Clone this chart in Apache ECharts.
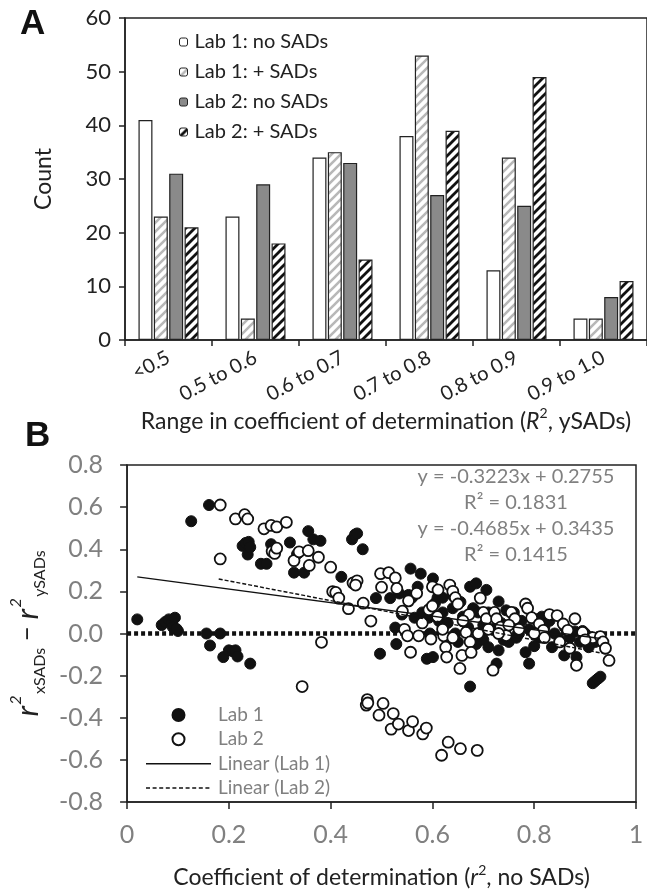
<!DOCTYPE html>
<html><head><meta charset="utf-8">
<script src="https://cdn.jsdelivr.net/npm/echarts@6/dist/echarts.min.js"></script>
<style>html,body{margin:0;padding:0;background:#fff}#c{width:647px;height:894px}</style>
</head><body><div id="c"></div>
<script>
// ---------- Panel A data ----------
const categories = ['<0.5', '0.5 to 0.6', '0.6 to 0.7', '0.7 to 0.8', '0.8 to 0.9', '0.9 to 1.0'];
const lab1NoSADs = [41, 23, 34, 38, 13, 4];
const lab1PlusSADs = [23, 4, 35, 53, 34, 4];
const lab2NoSADs = [31, 29, 33, 27, 25, 8];
const lab2PlusSADs = [21, 18, 15, 39, 49, 11];
const countTicks = [0, 10, 20, 30, 40, 50, 60];

// ---------- Panel B data ----------
const lab1Points = [
  [0.02,0.067],[0.068,0.04],[0.075,0.055],[0.082,0.067],[0.088,0.05],[0.094,0.075],[0.09,0.03],[0.1,0.012],[0.097,0.022],
  [0.126,0.533],[0.161,0.61],
  [0.156,0.0],[0.163,-0.057],[0.183,0.0],[0.189,-0.112],[0.2,-0.08],[0.208,-0.085],[0.213,-0.08],[0.217,-0.109],[0.242,-0.143],
  [0.227,0.416],[0.233,0.43],[0.239,0.435],[0.237,0.375],[0.242,0.41],[0.263,0.331],[0.274,0.331],[0.283,0.424],[0.32,0.432],
  [0.328,0.289],[0.348,0.289],[0.334,0.377],[0.356,0.486],[0.366,0.447],[0.38,0.44],
  [0.421,0.269],[0.442,0.447],[0.448,0.47],[0.452,0.475],[0.463,0.40],
  [0.489,0.168],[0.497,-0.096],[0.517,0.168],[0.529,-0.05],[0.527,0.028],[0.535,0.19],[0.54,0.09],
  [0.557,0.308],[0.553,0.183],[0.577,0.284],[0.571,0.222],[0.565,0.075],[0.56,0.17],[0.58,0.1],
  [0.589,-0.12],[0.601,-0.112],[0.601,0.261],[0.605,0.144],[0.593,0.075],[0.595,0.0],[0.613,0.059],[0.61,0.17],
  [0.62,0.1],[0.62,0.17],[0.63,0.05],[0.63,-0.03],[0.64,0.12],[0.64,0.18],[0.645,0.0],[0.65,-0.04],[0.655,0.15],[0.66,0.08],[0.67,0.03],
  [0.674,-0.252],[0.674,0.222],[0.68,0.12],[0.686,0.238],[0.69,0.1],[0.686,-0.05],[0.7,0.04],[0.7,-0.03],[0.706,0.207],[0.71,0.1],[0.71,-0.065],
  [0.72,0.02],[0.726,-0.143],[0.73,0.152],[0.73,-0.08],[0.735,0.05],[0.74,-0.03],[0.745,0.11],[0.75,-0.04],[0.76,0.05],[0.76,0.1],[0.765,-0.02],[0.77,0.0],[0.775,0.06],
  [0.783,-0.089],[0.79,-0.143],[0.79,0.02],[0.8,-0.06],[0.8,0.07],[0.81,-0.02],[0.815,0.08],[0.82,0.03],[0.83,0.06],[0.835,-0.065],[0.84,0.0],
  [0.85,-0.03],[0.859,-0.104],[0.86,0.03],[0.87,-0.02],[0.88,0.01],[0.883,-0.112],[0.89,-0.04],[0.895,0.012],[0.9,0.0],[0.907,-0.065],[0.92,-0.04],
  [0.915,-0.236],[0.92,-0.225],[0.925,-0.215],[0.93,-0.205]
];
const lab2Points = [
  [0.183,0.61],[0.183,0.354],[0.213,0.544],[0.231,0.564],[0.237,0.544],[0.269,0.497],[0.283,0.513],[0.294,0.506],[0.313,0.528],
  [0.285,0.39],[0.29,0.38],[0.294,0.405],
  [0.328,0.346],[0.338,0.388],[0.356,0.393],[0.358,0.323],[0.376,0.362],[0.4,0.315],[0.404,0.199],[0.41,0.195],[0.416,0.168],
  [0.435,0.118],[0.444,0.24],[0.452,0.25],[0.449,0.23],[0.464,0.144],[0.479,0.059],
  [0.382,-0.042],[0.344,-0.252],
  [0.472,-0.314],[0.47,-0.34],[0.473,-0.33],[0.495,-0.388],[0.503,-0.332],[0.519,-0.454],[0.523,-0.38],[0.533,-0.43],
  [0.553,-0.461],[0.561,-0.418],[0.581,-0.477],[0.588,-0.449],[0.618,-0.578],[0.631,-0.516],[0.655,-0.547],[0.688,-0.555],
  [0.498,0.284],[0.514,0.289],[0.527,0.264],[0.5,0.22],[0.53,0.214],[0.541,0.106],[0.545,0.02],[0.551,-0.011],[0.557,-0.089],
  [0.553,0.155],[0.569,0.191],[0.573,-0.011],
  [0.593,0.113],[0.597,-0.026],[0.6,0.222],[0.611,0.207],[0.622,-0.011],[0.626,-0.065],[0.628,-0.112],[0.634,0.23],[0.64,0.2],
  [0.645,0.17],[0.65,0.14],[0.654,-0.166],[0.658,-0.104],[0.666,0.005],[0.672,0.09],[0.674,-0.04],[0.676,-0.09],
  [0.694,0.168],[0.7,0.1],[0.706,0.07],[0.719,-0.174],[0.722,0.1],[0.726,0.07],[0.734,0.03],[0.755,0.1],[0.762,0.07],[0.745,-0.01],
  [0.783,0.14],[0.787,0.12],[0.795,0.075],[0.81,0.045],[0.818,0.015],[0.83,0.09],[0.845,0.085],[0.857,0.045],[0.866,0.015],
  [0.88,0.07],[0.883,-0.151],[0.895,0.005],[0.915,-0.02],[0.93,-0.015],[0.935,-0.04],[0.94,-0.07],[0.947,-0.128],
  [0.58,0.05],[0.6,0.13],[0.61,0.08],[0.62,0.02],[0.64,-0.02],[0.66,0.06],[0.69,0.0],[0.71,0.02],[0.73,0.0],[0.75,0.04],
  [0.77,0.02],[0.8,0.0],[0.82,-0.02],[0.85,-0.04],[0.87,-0.07],[0.9,-0.03]
];
const trendLab1 = [[0.02, 0.269], [0.93, -0.024]];
const trendLab2 = [[0.18, 0.259], [0.945, -0.099]];
const zeroLine = [[0, 0], [1, 0]];
const equationTexts = ['y = -0.3223x + 0.2755', 'R\u00B2 = 0.1831', 'y = -0.4685x + 0.3435', 'R\u00B2 = 0.1415'];

// ---------- styling helpers ----------
function hatch(bg, fg, lw) {
  const s = 9;
  const c = document.createElement('canvas'); c.width = s; c.height = s;
  const g = c.getContext('2d');
  g.fillStyle = bg; g.fillRect(0, 0, s, s);
  g.strokeStyle = fg; g.lineWidth = lw; g.lineCap = 'square';
  g.beginPath();
  g.moveTo(-2, s + 2); g.lineTo(s + 2, -2);
  g.moveTo(-2, 2); g.lineTo(2, -2);
  g.moveTo(s - 2, s + 2); g.lineTo(s + 2, s - 2);
  g.stroke();
  return { image: c, repeat: 'repeat' };
}
const LEG_W = 65, LEG_H = 12;
function lineIcon(dash, gap) {
  let p = 'path://M0,0M' + LEG_W + ',' + LEG_H;
  if (!dash) return p + 'M0,5.3H' + LEG_W + 'V6.8H0Z';
  for (let x = 0; x < LEG_W; x += dash + gap) {
    const w = Math.min(dash, LEG_W - x);
    p += 'M' + x + ',5.3h' + w + 'v1.5h-' + w + 'z';
  }
  return p;
}
const FONT = 'Lato';
const GRAY = '#808080';

const chart = echarts.init(document.getElementById('c'), null, { renderer: 'canvas' });
const barBase = { type: 'bar', xAxisIndex: 0, yAxisIndex: 0, barGap: '10%', barCategoryGap: '31%' };
const nameRich = {
  it: { fontFamily: FONT, fontSize: 23, fontStyle: 'italic', color: '#222', lineHeight: 30, verticalAlign: 'middle' },
  sup: { fontFamily: FONT, fontSize: 14, color: '#222', lineHeight: 30, verticalAlign: 'top' }
};
const option = {
  animation: false,
  backgroundColor: '#fff',
  textStyle: { fontFamily: FONT },
  grid: [
    { left: 125, top: 18, width: 526, height: 322, show: true, borderColor: '#222', borderWidth: 1.5, backgroundColor: 'transparent' },
    { left: 126, top: 465, width: 510, height: 342, show: true, borderColor: '#222', borderWidth: 1.5, backgroundColor: 'transparent' }
  ],
  legend: [
    {
      orient: 'vertical', left: 179, top: 32, itemWidth: 8, itemHeight: 8, itemGap: 10, padding: 0,
      data: ['Lab 1: no SADs', 'Lab 1: + SADs', 'Lab 2: no SADs', 'Lab 2: + SADs'],
      textStyle: { fontFamily: FONT, fontSize: 20, color: '#222', lineHeight: 20, padding: [0, 0, 0, 2] },
      itemStyle: { borderColor: '#222', borderWidth: 1 }
    },
    {
      orient: 'vertical', left: 146, top: 705, itemWidth: LEG_W, itemHeight: LEG_H, itemGap: 4.3, padding: 0,
      data: [
        { name: 'Lab 1', icon: 'circle' },
        { name: 'Lab 2', icon: 'circle' },
        { name: 'Linear (Lab 1)', icon: lineIcon(0, 0) },
        { name: 'Linear (Lab 2)', icon: lineIcon(4, 2.6) }
      ],
      textStyle: { fontFamily: FONT, fontSize: 19, color: GRAY, lineHeight: 20, padding: [0, 0, 0, 2] }
    }
  ],
  xAxis: [
    {
      type: 'category', gridIndex: 0, data: categories, boundaryGap: true,
      axisLine: { lineStyle: { color: '#222', width: 1.5 } },
      axisTick: { show: true, length: 6, lineStyle: { color: '#222', width: 1.5 } },
      axisLabel: { interval: 0, rotate: 28, margin: 16, fontFamily: FONT, fontSize: 20, color: '#222' },
      name: 'Range in coefficient of determination ({it|R}{sup|2}, ySADs)',
      nameLocation: 'middle', nameGap: 64,
      nameTextStyle: { fontFamily: FONT, fontSize: 23, color: '#222', lineHeight: 30, rich: nameRich }
    },
    {
      type: 'value', gridIndex: 1, min: 0, max: 1, interval: 0.2,
      axisLine: { onZero: false, lineStyle: { color: '#222', width: 1.5 } },
      axisTick: { show: true, length: 7, lineStyle: { color: '#222', width: 1.5 } },
      splitLine: { show: false },
      axisLabel: {
        margin: 20, fontFamily: FONT, fontSize: 25, color: GRAY,
        formatter: v => (v === 0 ? '0' : v === 1 ? '1' : v.toFixed(1))
      },
      name: 'Coefficient of determination ({it|r}{sup|2}, no SADs)',
      nameLocation: 'middle', nameGap: 61,
      nameTextStyle: { fontFamily: FONT, fontSize: 23, color: '#222', lineHeight: 30, rich: nameRich }
    }
  ],
  yAxis: [
    {
      type: 'value', gridIndex: 0, min: countTicks[0], max: countTicks[countTicks.length - 1], interval: 10,
      axisLine: { show: true, lineStyle: { color: '#222', width: 1.5 } },
      axisTick: { show: true, length: 6, lineStyle: { color: '#222', width: 1.5 } },
      splitLine: { show: false },
      axisLabel: { margin: 14, fontFamily: FONT, fontSize: 22, color: '#222' },
      name: 'Count', nameLocation: 'middle', nameGap: 70, nameRotate: 90,
      nameTextStyle: { fontFamily: FONT, fontSize: 23, color: '#222' }
    },
    {
      type: 'value', gridIndex: 1, min: -0.8, max: 0.8, interval: 0.2,
      axisLine: { show: true, onZero: false, lineStyle: { color: '#222', width: 1.5 } },
      axisTick: { show: true, length: 7, lineStyle: { color: '#222', width: 1.5 } },
      splitLine: { show: false },
      axisLabel: { margin: 24, fontFamily: FONT, fontSize: 25, color: GRAY, formatter: v => v.toFixed(1) },
      name: '{r|r}{sup|2}{sub|xSADs} \u2212 {r|r}{sup|2}{sub|ySADs}',
      nameLocation: 'middle', nameGap: 72, nameRotate: 90,
      nameTextStyle: {
        fontFamily: FONT, fontSize: 26, color: '#222', lineHeight: 40,
        rich: {
          r: { fontFamily: FONT, fontSize: 31, fontStyle: 'italic', color: '#222', lineHeight: 40, verticalAlign: 'middle' },
          sup: { fontFamily: FONT, fontSize: 16, fontStyle: 'italic', color: '#222', lineHeight: 40, verticalAlign: 'top', width: 12 },
          sub: { fontFamily: FONT, fontSize: 16, color: '#222', lineHeight: 40, verticalAlign: 'bottom' }
        }
      }
    }
  ],
  series: [
    Object.assign({}, barBase, { name: 'Lab 1: no SADs', data: lab1NoSADs,
      itemStyle: { color: '#ffffff', borderColor: '#222', borderWidth: 1.2 } }),
    Object.assign({}, barBase, { name: 'Lab 1: + SADs', data: lab1PlusSADs,
      itemStyle: { color: hatch('#ffffff', '#b8b8b8', 2.6), borderColor: '#222', borderWidth: 1.2 } }),
    Object.assign({}, barBase, { name: 'Lab 2: no SADs', data: lab2NoSADs,
      itemStyle: { color: '#8a8a8a', borderColor: '#222', borderWidth: 1.2 } }),
    Object.assign({}, barBase, { name: 'Lab 2: + SADs', data: lab2PlusSADs,
      itemStyle: { color: hatch('#ffffff', '#111111', 2.8), borderColor: '#222', borderWidth: 1.2 } }),
    {
      type: 'line', name: 'zero', xAxisIndex: 1, yAxisIndex: 1, data: zeroLine, symbol: 'none', z: 1,
      lineStyle: { color: '#111', width: 4.5, type: [4, 3], cap: 'butt' }, silent: true
    },
    {
      type: 'scatter', name: 'Lab 1', xAxisIndex: 1, yAxisIndex: 1, data: lab1Points, symbol: 'circle', symbolSize: 11, z: 3,
      itemStyle: { color: '#111', borderColor: '#111', borderWidth: 1, opacity: 1 }
    },
    {
      type: 'scatter', name: 'Lab 2', xAxisIndex: 1, yAxisIndex: 1, data: lab2Points, symbol: 'circle', symbolSize: 11, z: 4,
      itemStyle: { color: '#ffffff', borderColor: '#111', borderWidth: 1.8, opacity: 1 }
    },
    {
      type: 'line', name: 'Linear (Lab 1)', xAxisIndex: 1, yAxisIndex: 1, data: trendLab1, symbol: 'none', showSymbol: false, z: 5,
      lineStyle: { color: '#111', width: 1.4, type: 'solid' }, itemStyle: { color: '#111' }
    },
    {
      type: 'line', name: 'Linear (Lab 2)', xAxisIndex: 1, yAxisIndex: 1, data: trendLab2, symbol: 'none', showSymbol: false, z: 5,
      lineStyle: { color: '#111', width: 1.4, type: [4, 2] }, itemStyle: { color: '#111' }
    }
  ],
  graphic: [
    { type: 'text', left: 20, top: 7, style: { text: 'A', font: 'bold 35px "Liberation Sans"', fill: '#111' } },
    { type: 'text', left: 25, top: 419, style: { text: 'B', font: 'bold 35px "Liberation Sans"', fill: '#111' } },
    { type: 'text', x: 516, y: 477, style: { text: equationTexts[0], font: '20px Lato', fill: GRAY, align: 'center', verticalAlign: 'middle' } },
    { type: 'text', x: 516, y: 503, style: { text: equationTexts[1], font: '20px Lato', fill: GRAY, align: 'center', verticalAlign: 'middle' } },
    { type: 'text', x: 516, y: 529, style: { text: equationTexts[2], font: '20px Lato', fill: GRAY, align: 'center', verticalAlign: 'middle' } },
    { type: 'text', x: 516, y: 555, style: { text: equationTexts[3], font: '20px Lato', fill: GRAY, align: 'center', verticalAlign: 'middle' } }
  ]
};
chart.setOption(option);
</script>
</body></html>
